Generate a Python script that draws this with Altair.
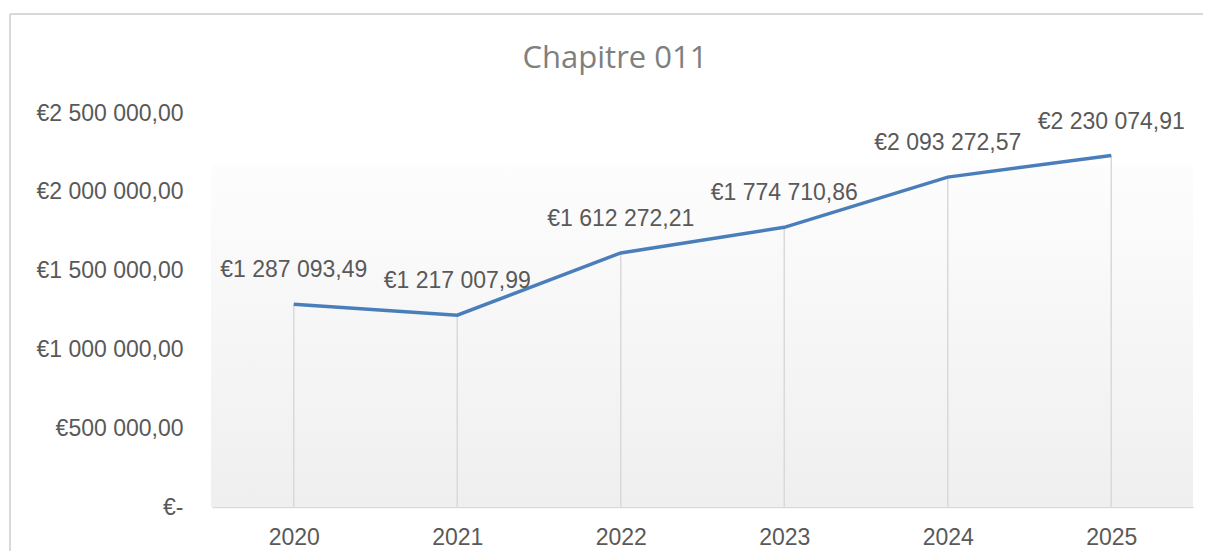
import altair as alt
import pandas as pd

years = ["2020", "2021", "2022", "2023", "2024", "2025"]
values = [1287093.49, 1217007.99, 1612272.21, 1774710.86, 2093272.57, 2230074.91]
y_ticks = [0, 500000, 1000000, 1500000, 2000000, 2500000]
title_text = "Chapitre 011"

df = pd.DataFrame({"year": years, "value": values})

FONT = "Liberation Sans"
GREY = "#595959"
FS = 23

x_enc = alt.X(
    "year:O",
    scale=alt.Scale(type="point", padding=0.5),
    axis=alt.Axis(title=None, labelAngle=0, ticks=False, grid=False,
                  domainColor="#d9d9d9", domainWidth=1.5,
                  labelFontSize=FS, labelColor=GREY, labelFont=FONT,
                  labelPadding=19),
)
y_enc = alt.Y(
    "value:Q",
    scale=alt.Scale(domain=[0, 2500000], nice=False),
    axis=alt.Axis(title=None, values=y_ticks, grid=False, domain=False, ticks=False,
                  labelPadding=29, labelFontSize=FS, labelColor=GREY, labelFont=FONT,
                  format="$,.2f",
                  labelExpr="datum.value == 0 ? '€-' : datum.label"),
)

one = alt.Data(values=[{}])

bg = alt.Chart(one).mark_rect(
    color=alt.Gradient(gradient="linear",
                       stops=[alt.GradientStop(color="#fdfdfd", offset=0),
                              alt.GradientStop(color="#efefef", offset=1)],
                       x1=0, x2=0, y1=0, y2=1)
).encode(x=alt.value(-1), x2=alt.value(981), y=alt.value(52), y2=alt.value(394))

frame_top = alt.Chart(one).mark_rule(color="#d9d9d9", strokeWidth=2).encode(
    x=alt.value(-202), x2=alt.value(1100), y=alt.value(-99))
frame_left = alt.Chart(one).mark_rule(color="#d9d9d9", strokeWidth=2).encode(
    x=alt.value(-202), y=alt.value(-99), y2=alt.value(600))

title = alt.Chart(one).mark_text(
    text=title_text, fontSize=31, color="#7f7f7f", font="Open Sans",
    baseline="middle", align="center"
).encode(x=alt.value(403), y=alt.value(-54))

base = alt.Chart(df)
drops = base.mark_rule(color="#d9d9d9", strokeWidth=1.5).encode(
    x=x_enc, y=y_enc, y2=alt.datum(0))
line = base.mark_line(color="#4a7ebb", strokeWidth=3.5).encode(x=x_enc, y=y_enc)
labels = base.mark_text(dy=-34, fontSize=FS, color=GREY, font=FONT, baseline="middle").encode(
    x=x_enc, y=y_enc, text=alt.Text("value:Q", format="$,.2f"))

chart = alt.layer(bg, frame_top, frame_left, title, drops, line, labels).properties(
    width=981, height=394,
    padding={"left": 204, "top": 105, "right": 10, "bottom": 44},
    autosize=alt.AutoSizeParams(type="none"),
).configure(
    view={"stroke": "transparent"},
    locale={"number": {"decimal": ",", "thousands": " ", "grouping": [3],
                       "currency": ["€", ""]}},
)

chart.save("out.html", embed_options={"renderer": "svg", "actions": False})
